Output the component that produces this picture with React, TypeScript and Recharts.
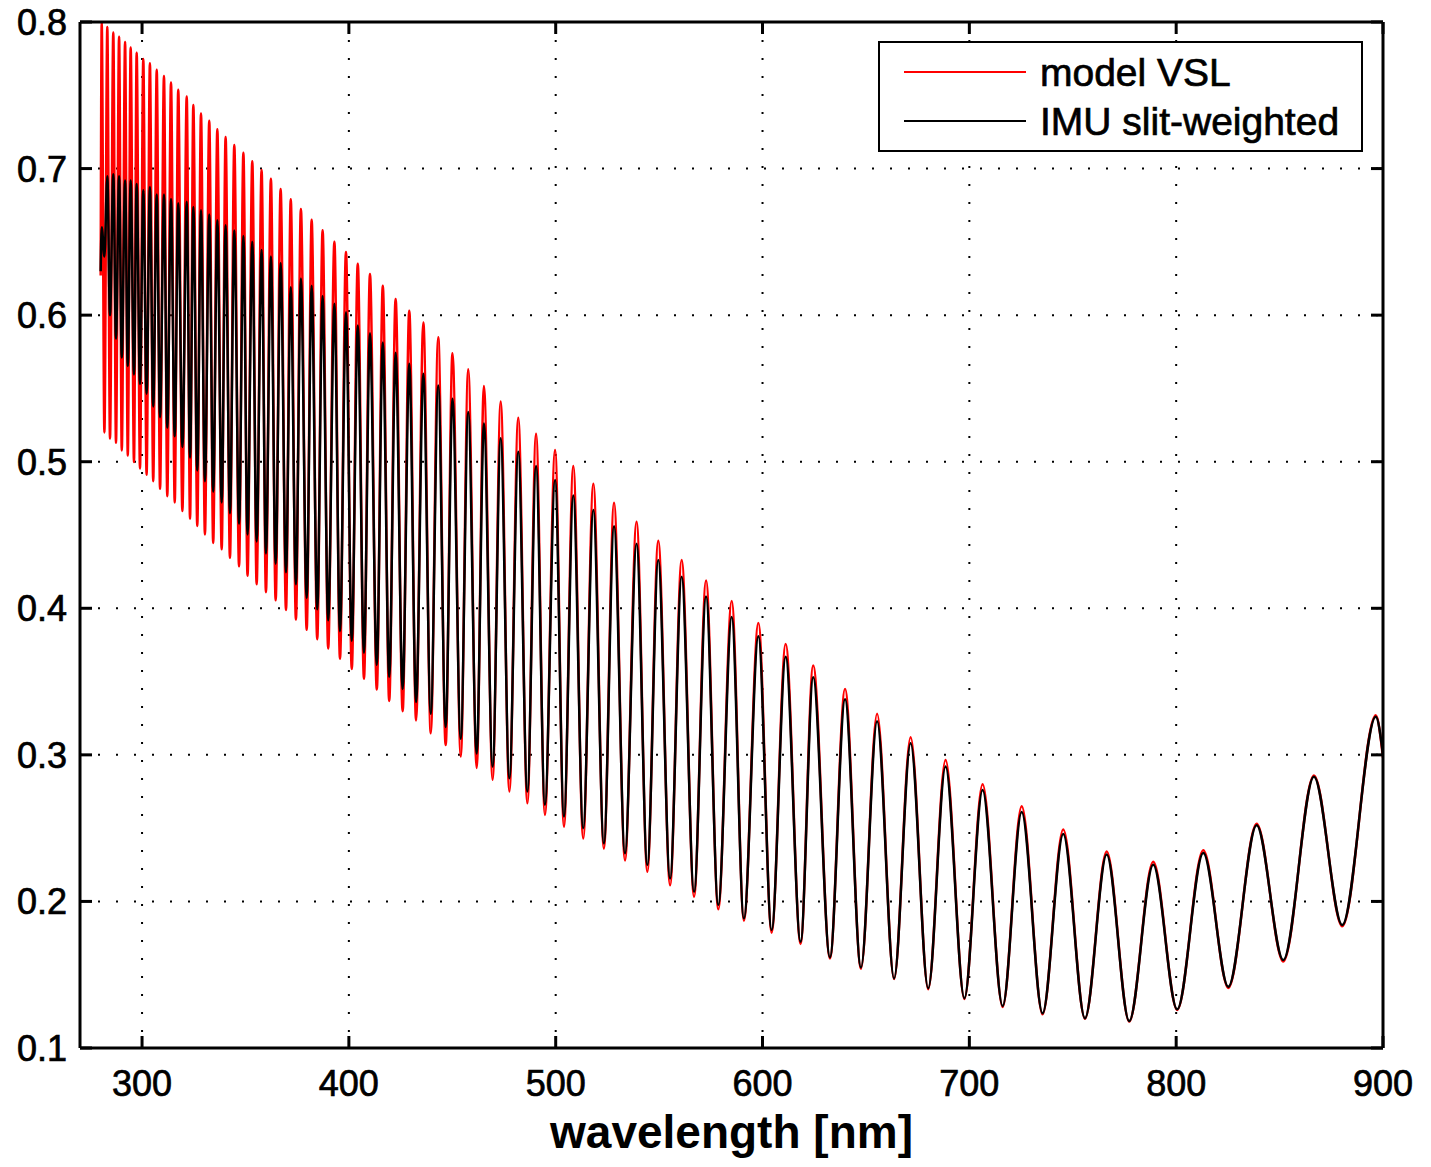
import React from 'react';
import { LineChart, Line, XAxis, YAxis, CartesianGrid, Legend } from 'recharts';

const FONT = '"Liberation Sans", Arial, Helvetica, sans-serif';

// Tick values
const xTicks = [300, 400, 500, 600, 700, 800, 900];
const yTicks = [0.1, 0.2, 0.3, 0.4, 0.5, 0.6, 0.7, 0.8];

// Series endpoints
const edgeWavelength = [280.0, 900.0];
const edgeModelVSL = [0.627, 0.298];
const edgeIMU = [0.63, 0.3];

// Fringe maxima (wavelength in nm)
const peakWavelength = [
  280.5, 283.2, 286.1, 288.9, 291.8, 294.5, 297.4, 300.6, 303.8, 307.1, 310.6, 314.0, 317.5, 321.6,
  324.8, 328.5, 332.5, 336.4, 340.4, 344.6, 349.0, 353.3, 357.8, 362.3, 367.0, 371.9, 376.8, 382.0,
  387.3, 393.0, 398.6, 404.3, 410.2, 416.4, 422.6, 429.2, 436.0, 443.2, 450.1, 457.7, 465.3, 473.4,
  481.9, 490.5, 499.7, 508.5, 518.2, 528.2, 539.1, 549.6, 560.9, 572.7, 585.1, 598.0, 611.2, 624.5,
  639.9, 655.4, 671.6, 688.5, 706.4, 725.3, 745.4, 766.4, 788.9, 813.1, 838.9, 866.6, 896.5,
];
const peakModelVSL = [
  0.7995, 0.7966, 0.7928, 0.79, 0.7864, 0.7826, 0.7791, 0.7748, 0.7719, 0.7675, 0.7631, 0.7588, 0.7538, 0.7492,
  0.7434, 0.7375, 0.7326, 0.7268, 0.7215, 0.716, 0.7108, 0.705, 0.699, 0.693, 0.686, 0.679, 0.6725, 0.665,
  0.658, 0.65, 0.643, 0.635, 0.628, 0.62, 0.611, 0.603, 0.595, 0.585, 0.574, 0.563, 0.5517, 0.541,
  0.53, 0.519, 0.508, 0.497, 0.485, 0.472, 0.459, 0.446, 0.433, 0.419, 0.405, 0.39, 0.3756, 0.361,
  0.345, 0.328, 0.312, 0.2965, 0.28, 0.265, 0.249, 0.234, 0.227, 0.235, 0.253, 0.286, 0.327,
];
const peakIMU = [
  0.66, 0.6948, 0.6962, 0.6948, 0.6919, 0.6919, 0.6895, 0.6852, 0.6875, 0.6823, 0.6823, 0.6793, 0.6764, 0.6773,
  0.6738, 0.6715, 0.6686, 0.6648, 0.6613, 0.6578, 0.654, 0.65, 0.6444, 0.64, 0.6356, 0.619, 0.625, 0.62,
  0.613, 0.6077, 0.602, 0.593, 0.5876, 0.5813, 0.5743, 0.5668, 0.56, 0.552, 0.543, 0.534, 0.526, 0.516,
  0.5068, 0.497, 0.4875, 0.477, 0.467, 0.456, 0.444, 0.433, 0.4216, 0.408, 0.394, 0.381, 0.367, 0.353,
  0.338, 0.323, 0.308, 0.292, 0.276, 0.261, 0.246, 0.232, 0.225, 0.233, 0.252, 0.285, 0.326,
];

// Fringe minima (wavelength in nm)
const troughWavelength = [
  281.8, 284.5, 287.4, 290.2, 293.1, 296.1, 299.0, 302.2, 305.4, 308.7, 312.2, 315.8, 319.5, 323.2,
  326.7, 330.4, 334.4, 338.5, 342.5, 346.9, 351.0, 355.4, 359.9, 364.6, 369.6, 374.4, 379.6, 384.7,
  390.0, 395.7, 401.4, 407.3, 413.5, 419.5, 426.0, 432.5, 439.6, 446.8, 454.1, 461.8, 469.5, 477.6,
  486.3, 494.8, 504.0, 513.3, 523.3, 533.5, 544.3, 555.3, 566.9, 578.6, 591.0, 604.4, 618.4, 632.6,
  647.6, 663.6, 680.1, 697.6, 716.1, 735.4, 755.9, 777.3, 800.5, 825.2, 851.8, 880.3,
];
const troughModelVSL = [
  0.52, 0.5158, 0.5129, 0.5077, 0.5042, 0.4998, 0.4954, 0.4911, 0.4867, 0.4815, 0.4765, 0.4722, 0.4664, 0.4611,
  0.4562, 0.4504, 0.4446, 0.4402, 0.4344, 0.4286, 0.4222, 0.4164, 0.411, 0.4054, 0.3988, 0.3923, 0.3853, 0.3789,
  0.3726, 0.3656, 0.3586, 0.352, 0.3446, 0.3368, 0.3298, 0.3235, 0.3147, 0.3067, 0.2988, 0.291, 0.283, 0.275,
  0.267, 0.259, 0.251, 0.243, 0.236, 0.228, 0.2203, 0.211, 0.2032, 0.1946, 0.1868, 0.1787, 0.171, 0.161,
  0.154, 0.147, 0.14, 0.1335, 0.128, 0.123, 0.12, 0.118, 0.126, 0.141, 0.159, 0.183,
];
const troughIMU = [
  0.64, 0.6, 0.584, 0.5711, 0.5653, 0.5595, 0.5531, 0.5464, 0.5377, 0.5304, 0.5231, 0.5173, 0.51, 0.5027,
  0.494, 0.4867, 0.4795, 0.4722, 0.4649, 0.4576, 0.4504, 0.4456, 0.4374, 0.4304, 0.4246, 0.4164, 0.407, 0.3993,
  0.3918, 0.3843, 0.3778, 0.3696, 0.3614, 0.3532, 0.345, 0.336, 0.328, 0.319, 0.311, 0.301, 0.292, 0.284,
  0.275, 0.266, 0.258, 0.25, 0.2396, 0.2328, 0.2248, 0.2157, 0.2066, 0.1976, 0.1885, 0.1805, 0.1725, 0.162,
  0.155, 0.1475, 0.1407, 0.134, 0.1287, 0.1237, 0.1203, 0.1184, 0.1264, 0.1418, 0.16, 0.1839,
];

type Row = { wavelength: number; modelVSL: number; imuSlitWeighted: number };

const buildRows = (): Row[] => {
  const rows: Row[] = [];
  const add = (w: number[], m: number[], b: number[]) => {
    const n = Math.min(w.length, m.length, b.length);
    for (let i = 0; i < n; i++) rows.push({ wavelength: w[i], modelVSL: m[i], imuSlitWeighted: b[i] });
  };
  add(edgeWavelength, edgeModelVSL, edgeIMU);
  add(peakWavelength, peakModelVSL, peakIMU);
  add(troughWavelength, troughModelVSL, troughIMU);
  rows.sort((a, b) => a.wavelength - b.wavelength);
  return rows;
};

const data = buildRows();

const TICK_LEN = 12;
const textProps = { fontSize: 36, fill: '#000', fontFamily: FONT, stroke: '#000', strokeWidth: 0.7 };

const BottomTick = (props: any) => {
  const { x, y, payload } = props;
  return (
    <g>
      <line x1={x} x2={x} y1={y} y2={y - TICK_LEN} stroke="#000" strokeWidth={3} />
      <text x={x} y={y + 48} textAnchor="middle" {...textProps}>
        {String(payload.value)}
      </text>
    </g>
  );
};

const LeftTick = (props: any) => {
  const { x, y, payload } = props;
  return (
    <g>
      <line x1={x} x2={x + TICK_LEN} y1={y} y2={y} stroke="#000" strokeWidth={3} />
      <text x={x - 13} y={y + 13} textAnchor="end" {...textProps}>
        {Number(payload.value).toFixed(1)}
      </text>
    </g>
  );
};

const TopTick = (props: any) => {
  const { x, y } = props;
  return <line x1={x} x2={x} y1={y} y2={y + TICK_LEN} stroke="#000" strokeWidth={3} />;
};

const RightTick = (props: any) => {
  const { x, y } = props;
  return <line x1={x} x2={x - TICK_LEN} y1={y} y2={y} stroke="#000" strokeWidth={3} />;
};

const renderLegend = () => (
  <div
    style={{
      width: 485,
      height: 111,
      border: '2px solid #000',
      background: '#fff',
      boxSizing: 'border-box',
      position: 'relative',
    }}
  >
    <svg width={481} height={107} style={{ position: 'absolute', left: 0, top: 0 }}>
      <line x1={24} x2={146} y1={29} y2={29} stroke="#ff0000" strokeWidth={2} />
      <text x={160} y={43} fontSize={39} fontFamily={FONT} fill="#000" stroke="#000" strokeWidth={0.7}>
        model VSL
      </text>
      <line x1={24} x2={146} y1={78} y2={78} stroke="#000" strokeWidth={2} />
      <text x={160} y={92} fontSize={39} fontFamily={FONT} fill="#000" stroke="#000" strokeWidth={0.7}>
        IMU slit-weighted
      </text>
    </svg>
  </div>
);

export default function App() {
  return (
    <div style={{ position: 'absolute', left: 0, top: 0, width: 1431, height: 1167, background: '#fff', fontFamily: FONT }}>
      <LineChart width={1431} height={1167} data={data} margin={{ top: 21, right: 47, bottom: 0, left: 0 }}>
        <CartesianGrid stroke="#000" strokeWidth={2} strokeDasharray="2 16" />
        <XAxis
          dataKey="wavelength"
          type="number"
          domain={[270, 900]}
          ticks={xTicks}
          allowDataOverflow
          height={119}
          tickSize={0}
          tickMargin={0}
          tickLine={false}
          tick={<BottomTick />}
          axisLine={{ stroke: '#000', strokeWidth: 3 }}
          label={{
            value: 'wavelength [nm]',
            position: 'insideBottom',
            offset: 19,
            style: { fontSize: 46, fontWeight: 'bold', fill: '#000', fontFamily: FONT },
          }}
        />
        <XAxis
          xAxisId="top"
          dataKey="wavelength"
          orientation="top"
          type="number"
          domain={[270, 900]}
          ticks={xTicks}
          allowDataOverflow
          height={1}
          tickSize={0}
          tickMargin={0}
          tickLine={false}
          tick={<TopTick />}
          axisLine={{ stroke: '#000', strokeWidth: 3 }}
        />
        <YAxis
          type="number"
          domain={[0.1, 0.8]}
          ticks={yTicks}
          allowDataOverflow
          width={80}
          tickSize={0}
          tickMargin={0}
          tickLine={false}
          tick={<LeftTick />}
          axisLine={{ stroke: '#000', strokeWidth: 3 }}
        />
        <YAxis
          yAxisId="right"
          orientation="right"
          type="number"
          domain={[0.1, 0.8]}
          ticks={yTicks}
          allowDataOverflow
          width={1}
          tickSize={0}
          tickMargin={0}
          tickLine={false}
          tick={<RightTick />}
          axisLine={{ stroke: '#000', strokeWidth: 3 }}
        />
        <Legend
          layout="horizontal"
          verticalAlign="middle"
          align="center"
          content={renderLegend}
          wrapperStyle={{ left: 878, top: 41, width: 485, height: 111 }}
        />
        <Line
          type="monotone"
          dataKey="modelVSL"
          name="model VSL"
          stroke="#ff0000"
          strokeWidth={2.5}
          dot={false}
          activeDot={false}
          isAnimationActive={false}
        />
        <Line
          type="monotone"
          dataKey="imuSlitWeighted"
          name="IMU slit-weighted"
          stroke="#000"
          strokeWidth={2.5}
          dot={false}
          activeDot={false}
          isAnimationActive={false}
        />
      </LineChart>
    </div>
  );
}
